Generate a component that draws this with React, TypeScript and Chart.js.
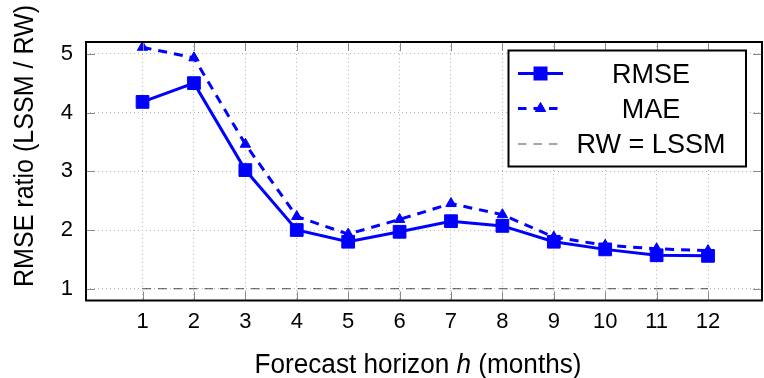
import React, { useEffect, useRef } from 'react';
import { Chart, registerables } from 'chart.js';

Chart.register(...registerables);

// ---- data ----
const horizons = [1, 2, 3, 4, 5, 6, 7, 8, 9, 10, 11, 12];
const rmseRatio = [4.18, 4.5, 3.02, 2.0, 1.8, 1.97, 2.15, 2.07, 1.8, 1.67, 1.57, 1.56];
const maeRatio = [5.11, 4.93, 3.46, 2.23, 1.93, 2.18, 2.45, 2.26, 1.88, 1.74, 1.68, 1.65];
const rwLssm = [1, 1, 1, 1, 1, 1, 1, 1, 1, 1, 1, 1];
const xTickValues = [1, 2, 3, 4, 5, 6, 7, 8, 9, 10, 11, 12];
const yTickValues = [1, 2, 3, 4, 5];
const seriesLabels = ['RMSE', 'MAE', 'RW = LSSM'];
const xTitleParts = ['Forecast horizon ', 'h', ' (months)'];
const yTitle = 'RMSE ratio (LSSM / RW)';

const FONT = '"Liberation Sans", Arial, sans-serif';
const BLUE = '#0000ff';

function drawSquare(ctx: CanvasRenderingContext2D, x: number, y: number, side: number) {
  ctx.fillStyle = BLUE;
  ctx.fillRect(x - side / 2, y - side / 2, side, side);
}

function drawTriangle(ctx: CanvasRenderingContext2D, x: number, y: number, r: number) {
  ctx.beginPath();
  let rad = 0;
  for (let k = 0; k < 3; k++) {
    const px = x + Math.sin(rad) * r;
    const py = y - Math.cos(rad) * r;
    if (k === 0) ctx.moveTo(px, py);
    else ctx.lineTo(px, py);
    rad += (2 * Math.PI) / 3;
  }
  ctx.closePath();
  ctx.fillStyle = BLUE;
  ctx.fill();
  ctx.strokeStyle = BLUE;
  ctx.lineWidth = 1;
  ctx.stroke();
}

const framePlugin = {
  id: 'pgfFrame',
  afterDraw(chart: any) {
    const ctx: CanvasRenderingContext2D = chart.ctx;
    const { left, right, top, bottom } = chart.chartArea;
    const xs = chart.scales.x;
    const ys = chart.scales.y;
    ctx.save();
    // inward ticks
    const tl = 9;
    ctx.strokeStyle = '#8a8a8a';
    ctx.lineWidth = 1;
    ctx.setLineDash([]);
    ctx.beginPath();
    xTickValues.forEach((v) => {
      const px = Math.round(xs.getPixelForValue(v)) + 0.5;
      ctx.moveTo(px, bottom);
      ctx.lineTo(px, bottom - tl);
      ctx.moveTo(px, top);
      ctx.lineTo(px, top + tl);
    });
    yTickValues.forEach((v) => {
      const py = Math.round(ys.getPixelForValue(v)) + 0.5;
      ctx.moveTo(left, py);
      ctx.lineTo(left + tl, py);
      ctx.moveTo(right, py);
      ctx.lineTo(right - tl, py);
    });
    ctx.stroke();
    // frame
    ctx.strokeStyle = '#000';
    ctx.lineWidth = 2;
    ctx.strokeRect(left, top, right - left, bottom - top);

    // x title
    ctx.fillStyle = '#000';
    ctx.textBaseline = 'alphabetic';
    ctx.textAlign = 'left';
    const fontN = `27px ${FONT}`;
    const fontI = `italic 27px ${FONT}`;
    const widths = xTitleParts.map((p, i) => {
      ctx.font = i === 1 ? fontI : fontN;
      return ctx.measureText(p).width;
    });
    const total = widths.reduce((a, b) => a + b, 0);
    const f = Math.min(1, 327 / total);
    ctx.save();
    ctx.translate(418, 372.5);
    ctx.scale(f, 1);
    let cx = -total / 2;
    xTitleParts.forEach((p, i) => {
      ctx.font = i === 1 ? fontI : fontN;
      ctx.fillText(p, cx, 0);
      cx += widths[i];
    });
    ctx.restore();

    // y title
    ctx.save();
    ctx.translate(33, 146);
    ctx.rotate(-Math.PI / 2);
    ctx.font = fontN;
    ctx.textAlign = 'center';
    ctx.fillText(yTitle, 0, 0, 282);
    ctx.restore();

    // legend
    const bx = 508.5, by = 50.5, bw = 237.5, bh = 116;
    ctx.fillStyle = '#fff';
    ctx.fillRect(bx, by, bw, bh);
    ctx.strokeStyle = '#000';
    ctx.lineWidth = 2;
    ctx.strokeRect(bx, by, bw, bh);
    const x0 = 518, x1 = 563, xm = 540.5;
    const rows = [73.5, 108.5, 143.5];
    // RMSE
    ctx.strokeStyle = BLUE;
    ctx.lineWidth = 3;
    ctx.beginPath();
    ctx.moveTo(x0, rows[0]);
    ctx.lineTo(x1, rows[0]);
    ctx.stroke();
    drawSquare(ctx, xm, rows[0], 14);
    // MAE
    ctx.setLineDash([8.5, 7]);
    ctx.beginPath();
    ctx.moveTo(x0, rows[1]);
    ctx.lineTo(x1, rows[1]);
    ctx.stroke();
    ctx.setLineDash([]);
    drawTriangle(ctx, xm, rows[1], 6);
    // RW = LSSM
    ctx.strokeStyle = 'rgba(0,0,0,0.7)';
    ctx.lineWidth = 1;
    ctx.setLineDash([8.5, 7]);
    ctx.beginPath();
    ctx.moveTo(x0, rows[2] + 0.5);
    ctx.lineTo(x1, rows[2] + 0.5);
    ctx.stroke();
    ctx.setLineDash([]);
    ctx.fillStyle = '#000';
    ctx.font = fontN;
    ctx.textAlign = 'center';
    ctx.textBaseline = 'alphabetic';
    seriesLabels.forEach((s, i) => {
      ctx.fillText(s, 651, rows[i] + 9);
    });
    ctx.restore();
  },
};

export default function App() {
  const ref = useRef<HTMLCanvasElement | null>(null);

  useEffect(() => {
    if (!ref.current) return;
    const chart = new Chart(ref.current, {
      type: 'line',
      data: {
        datasets: [
          {
            label: seriesLabels[0],
            data: horizons.map((h, i) => ({ x: h, y: rmseRatio[i] })),
            borderColor: BLUE,
            backgroundColor: BLUE,
            borderWidth: 3,
            pointStyle: 'rect',
            pointRadius: 9,
            pointBorderWidth: 1,
            pointBackgroundColor: BLUE,
            pointBorderColor: BLUE,
            tension: 0,
          },
          {
            label: seriesLabels[1],
            data: horizons.map((h, i) => ({ x: h, y: maeRatio[i] })),
            borderColor: BLUE,
            backgroundColor: BLUE,
            borderWidth: 3,
            borderDash: [9, 7],
            pointStyle: 'triangle',
            pointRadius: 6,
            pointBorderWidth: 1,
            pointBackgroundColor: BLUE,
            pointBorderColor: BLUE,
            tension: 0,
          },
          {
            label: seriesLabels[2],
            data: horizons.map((h, i) => ({ x: h, y: rwLssm[i] })),
            borderColor: 'rgba(0,0,0,0.7)',
            borderWidth: 1,
            borderDash: [8.5, 7],
            pointRadius: 0,
            tension: 0,
          },
        ],
      },
      options: {
        responsive: false,
        animation: false,
        layout: { padding: { left: 0, top: 42, right: 7, bottom: 0 } },
        plugins: { legend: { display: false }, tooltip: { enabled: false } },
        scales: {
          x: {
            type: 'linear',
            min: -0.1,
            max: 13.05,
            afterBuildTicks: (s: any) => {
              s.ticks = xTickValues.map((v) => ({ value: v }));
            },
            afterFit: (s: any) => {
              s.height = 77.5;
            },
            grid: { color: '#b4b4b4', lineWidth: 1, drawTicks: false },
            border: { display: false, dash: [1, 3] },
            ticks: {
              color: '#000',
              font: { family: FONT, size: 22 },
              padding: 8,
              maxRotation: 0,
              autoSkip: false,
            },
          },
          y: {
            type: 'linear',
            min: 0.8,
            max: 5.2,
            afterBuildTicks: (s: any) => {
              s.ticks = yTickValues.map((v) => ({ value: v }));
            },
            afterFit: (s: any) => {
              s.width = 86;
            },
            grid: { color: '#b4b4b4', lineWidth: 1, drawTicks: false },
            border: { display: false, dash: [1, 3] },
            ticks: {
              color: '#000',
              font: { family: FONT, size: 22 },
              padding: 13,
              autoSkip: false,
            },
          },
        },
      },
      plugins: [framePlugin],
    });
    return () => chart.destroy();
  }, []);

  return (
    <div
      style={{
        position: 'fixed',
        left: 0,
        top: 0,
        width: 764,
        height: 378,
        overflow: 'hidden',
        background: '#fff',
      }}
    >
      <canvas ref={ref} width={772} height={378} style={{ display: 'block' }} />
    </div>
  );
}
